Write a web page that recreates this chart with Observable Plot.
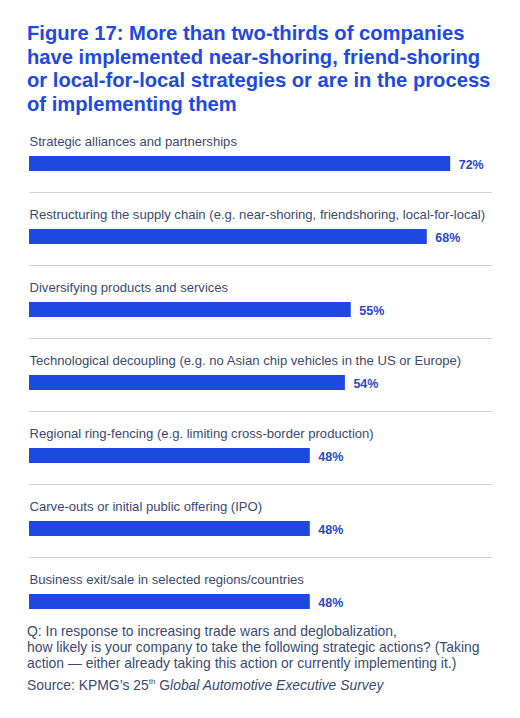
<!DOCTYPE html>
<html>
<head>
<meta charset="utf-8">
<script src="https://cdn.jsdelivr.net/npm/d3@7"></script>
<script src="https://cdn.jsdelivr.net/npm/@observablehq/plot@0.6"></script>
<style>
  body { margin: 0; background: #fff; font-family: "Liberation Sans", Arial, sans-serif; }
  #wrap { width: 520px; height: 718px; overflow: hidden; }
  #title { margin: 0; padding: 22px 0 0 27px; width: 490px; height: 102px; box-sizing: content-box;
    font-size: 20.2px; font-weight: bold; line-height: 23.5px; color: #1e49e2; white-space: nowrap; }
  #chart { height: 499px; }
  #chart svg { display: block; }
  #note { margin: 0 0 0 27px; width: 490px; white-space: nowrap;
    font-size: 13.9px; line-height: 16px; color: #3a4a72; }
  #source { margin-top: 3px; }
</style>
</head>
<body>
<div id="wrap">
  <h1 id="title">Figure 17: More than two-thirds of companies<br>have implemented near-shoring, friend-shoring<br>or local-for-local strategies or are in the process<br>of implementing them</h1>
  <div id="chart"></div>
  <div id="note">
    <div>Q: In response to increasing trade wars and deglobalization,<br>how likely is your company to take the following strategic actions? (Taking<br>action — either already taking this action or currently implementing it.)</div>
    <div id="source">Source: KPMG’s 25<sup style="font-size:8px">th</sup> G<i>lobal Automotive Executive Survey</i></div>
  </div>
</div>
<script>
// survey answers, share of companies taking action (%)
const actions = [
  "Strategic alliances and partnerships",
  "Restructuring the supply chain (e.g. near-shoring, friendshoring, local-for-local)",
  "Diversifying products and services",
  "Technological decoupling (e.g. no Asian chip vehicles in the US or Europe)",
  "Regional ring-fencing (e.g. limiting cross-border production)",
  "Carve-outs or initial public offering (IPO)",
  "Business exit/sale in selected regions/countries"
];
const shares = [72, 68, 55, 54, 48, 48, 48];

const rows = actions.map((action, i) => ({action, share: shares[i]}));

const chart = Plot.plot({
  width: 520,
  height: 494,
  marginLeft: 29,
  marginRight: 28,
  marginTop: 0,
  marginBottom: 0,
  x: {domain: [0, 100], range: [29, 614], axis: null},
  y: {domain: actions, range: [0, 516], paddingInner: 0.8, paddingOuter: 0.4, axis: null},
  marks: [
    // thin grey separators between rows
    Plot.ruleY(rows.slice(0, -1), {y: "action", dy: 28.5, stroke: "#cfd2d6", strokeWidth: 1}),
    Plot.barX(rows, {x: "share", y: "action", fill: "#1f48e0"}),
    Plot.text(rows, {
      x: 0, y: "action", text: "action", dy: -22, textAnchor: "start",
      fill: "#3a4a72", fontSize: 13.1, fontFamily: "Liberation Sans, Arial, sans-serif"
    }),
    Plot.text(rows, {
      x: "share", y: "action", text: d => d.share + "%", dx: 8, dy: 1, textAnchor: "start",
      fill: "#2a47c9", fontSize: 12.5, fontWeight: "bold", fontFamily: "Liberation Sans, Arial, sans-serif"
    })
  ]
});

document.querySelector("#chart").append(chart);
</script>
</body>
</html>
